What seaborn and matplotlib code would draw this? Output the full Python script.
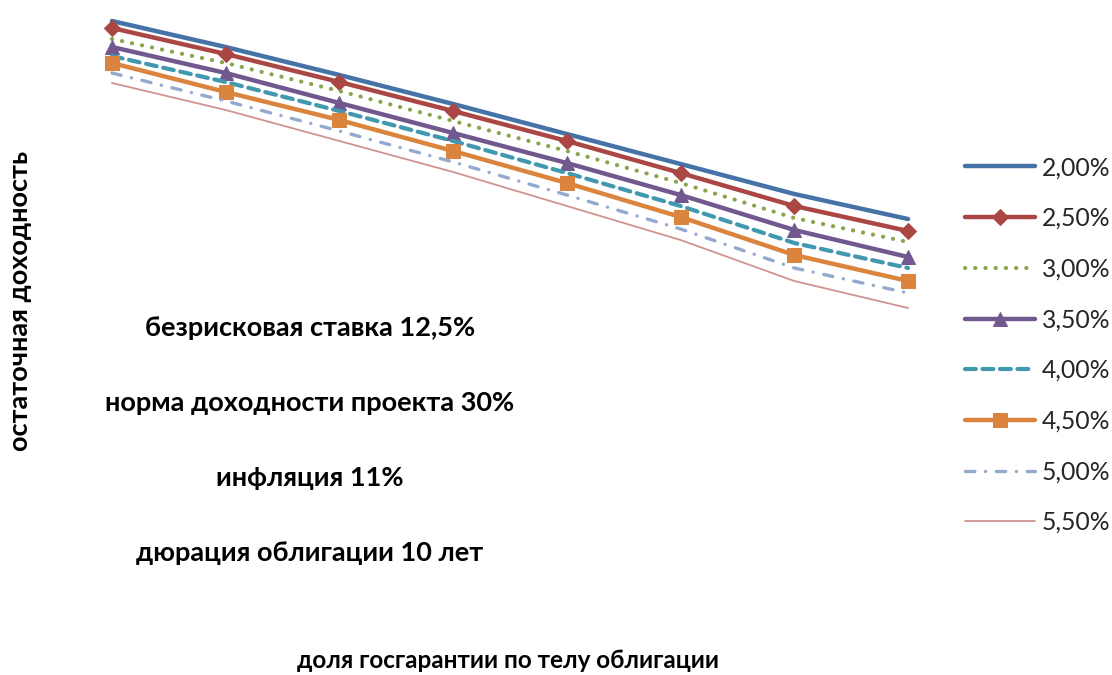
import matplotlib
matplotlib.use("Agg")
import matplotlib.pyplot as plt
import seaborn as sns
import pandas as pd

# ---- data (arbitrary units; no visible axis scale) ----
x_points = [0, 1, 2, 3, 4, 5, 6, 7]
series_labels = ["2,00%", "2,50%", "3,00%", "3,50%", "4,00%", "4,50%", "5,00%", "5,50%"]
s200 = [30.9, 28.3, 25.5, 22.6, 19.6, 16.6, 13.6, 11.1]
s250 = [30.2, 27.6, 24.8, 21.9, 18.9, 15.7, 12.4, 9.9]
s300 = [29.1, 26.7, 23.9, 20.9, 17.9, 14.7, 11.2, 8.8]
s350 = [28.3, 25.7, 22.7, 19.7, 16.7, 13.5, 10.0, 7.3]
s400 = [27.4, 24.8, 21.9, 18.9, 15.7, 12.4, 8.7, 6.2]
s450 = [26.7, 23.8, 21.0, 17.9, 14.7, 11.3, 7.5, 4.9]
s500 = [25.7, 22.9, 19.9, 16.8, 13.5, 10.1, 6.2, 3.7]
s550 = [24.7, 22.0, 18.9, 15.8, 12.4, 9.0, 4.9, 2.2]
series_values = [s200, s250, s300, s350, s400, s450, s500, s550]

annotations = ["безрисковая ставка 12,5%", "норма доходности проекта 30%",
               "инфляция 11%", "дюрация облигации 10 лет"]
x_label = "доля госгарантии по телу облигации"
y_label = "остаточная доходность"

# ---- styles ----
colors = ["#4572A7", "#AA4643", "#89A54E", "#71588F", "#4198AF", "#DB843D", "#93A9CF", "#D19392"]
widths = [3.2, 3.2, 3.0, 3.2, 3.0, 3.2, 2.4, 1.3]
dashes = ["-", "-", (0, (0.05, 2.4)), "-", (0, (2.6, 1.6)), "-", (0, (2.8, 3.2, 0.05, 3.2)), "-"]
markers = [None, "D", None, "^", None, "s", None, None]
msizes = [0, 8.5, 0, 9.5, 0, 10, 0, 0]

sns.set_theme(style="white")
plt.rcParams["font.family"] = ["Lato", "DejaVu Sans"]

W, H = 1112, 675
fig = plt.figure(figsize=(W / 100, H / 100), dpi=100)
ax = fig.add_axes([60 / W, 1 - 620 / H, 900 / W, 620 / H])

for lab, vals, c, lw, ls, mk, ms in zip(series_labels, series_values, colors, widths, dashes, markers, msizes):
    df = pd.DataFrame({"x": x_points, "y": vals})
    kw = dict(color=c, linewidth=lw, linestyle=ls, label=lab,
              solid_capstyle="round", dash_capstyle="round")
    if mk:
        kw.update(marker=mk, markersize=ms, markeredgecolor=c, markerfacecolor=c)
    sns.lineplot(data=df, x="x", y="y", ax=ax, **kw)

ax.set_xlim(-0.457, 7.457)
ax.set_ylim(-29, 33)
ax.set_xticks([])
ax.set_yticks([])
ax.set_xlabel("")
ax.set_ylabel("")
for sp in ax.spines.values():
    sp.set_visible(False)
if ax.legend_:
    ax.legend_.remove()

# annotations in pixel coords
def ftext(px, py, s, **kw):
    fig.text(px / W, 1 - py / H, s, ha="center", va="center", **kw)

ann_y = [328, 403, 478, 553]
for s, py in zip(annotations, ann_y):
    ftext(310, py, s, fontsize=19.5, fontweight="bold", color="black")

ftext(508, 661, x_label, fontsize=17.5, fontweight="bold", color="black")
ftext(20, 301, y_label, fontsize=19.5, fontweight="bold", color="black", rotation=90)

handles, labels = ax.get_legend_handles_labels()
leg = fig.legend(handles, labels, loc="center left",
                 bbox_to_anchor=(965 / W, 1 - 345 / H), frameon=False,
                 borderpad=0, borderaxespad=0,
                 fontsize=17.8, handlelength=2.83, labelspacing=1.12, handletextpad=0.28,
                 labelcolor="#262626")

fig.savefig("out.png", dpi=100, facecolor="white")
